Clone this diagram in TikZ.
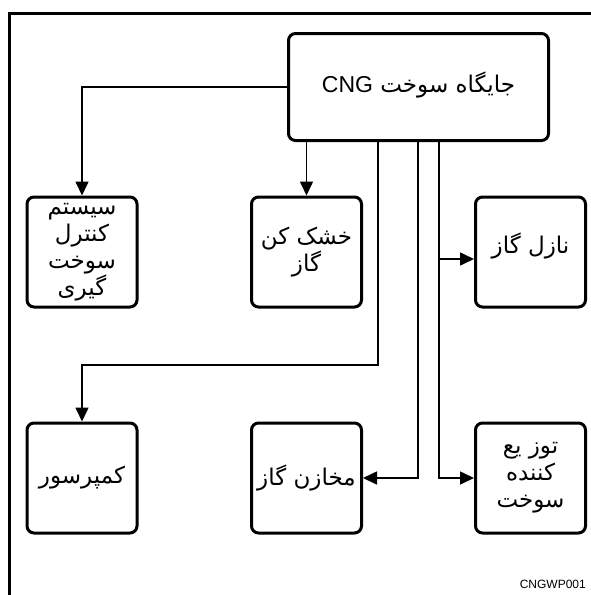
\documentclass[tikz,border=0pt]{standalone}
\usepackage{fontspec}
\setmainfont{Liberation Sans}
\newfontfamily\arabicfont[Script=Arabic]{DejaVu Sans}
\TeXXeTstate=1
\usepackage{tikz}
\usetikzlibrary{arrows.meta, positioning, calc}
\newcommand{\rline}[1]{\beginR #1\endR}
\tikzset{
  unit/.style={
    draw, rectangle, rounded corners=7pt, line width=3pt,
    minimum width=110pt, minimum height=110pt, inner sep=1pt,
    font=\arabicfont\fontsize{23}{27}\selectfont, align=center
  },
  station/.style={
    unit, minimum width=260pt, minimum height=107pt
  },
  feed/.style={
    line width=1.6pt, -{Triangle[length=14pt, width=13pt]}
  },
}

\begin{document}
\begin{tikzpicture}[x=1pt, y=-1pt]
\useasboundingbox (0,0) rectangle (591,595);

% frame (top and left edge only)
\draw[line width=3pt] (9,595) -- (9,13) -- (591,13);

% ── Nodes ──────────────────────────────────────────────────────────────────
% CNG station
\node[station, text depth=10pt] (station) at (418.5,87) {\rline{جایگاه سوخت \beginL{\rmfamily\fontsize{23}{27}\selectfont CNG}\endL}};

% Row 1
\node[unit] (control) at (82,252) {\rline{سیستم}\\\rline{کنترل}\\\rline{سوخت}\\\rline{گیری}};
\node[unit] (dryer)   at (306.5,252) {\rline{خشک کن}\\\rline{گاز}};
\node[unit, text depth=18pt] (nozzle) at (530.5,252) {\rline{نازل گاز}};

% Row 2
\node[unit] (compressor) at (82,478) {\rline{کمپرسور}};
\node[unit] (storage)    at (306.5,478) {\rline{مخازن گاز}};
\node[unit] (dispenser)  at (530.5,478) {\rline{توز یع}\\\rline{کننده}\\\rline{سوخت}};

% figure code
\node[font=\fontsize{12}{14}\selectfont, anchor=east, inner sep=0pt] (code) at (586,584) {CNGWP001};

% ── Bend points ────────────────────────────────────────────────────────────
\coordinate (k1) at (378,365);
\coordinate (k2) at (418,0);
\coordinate (k3) at (439,0);

% ── Flows ──────────────────────────────────────────────────────────────────
% station → control system
\draw[feed] (station.west) -| (control.north);

% station → dryer
\draw[feed] (dryer.north |- station.south) -- (dryer.north);

% station → compressor
\draw[feed] (station.south -| k1) -- (k1) -| (compressor.north);

% station → storage
\draw[feed] (station.south -| k2) |- (storage.east);

% station → dispenser
\draw[feed] (station.south -| k3) |- (dispenser.west);

% branch → nozzle
\draw[feed] ([yshift=-7pt]nozzle.west -| k3) -- ([yshift=-7pt]nozzle.west);

\end{tikzpicture}
\end{document}
